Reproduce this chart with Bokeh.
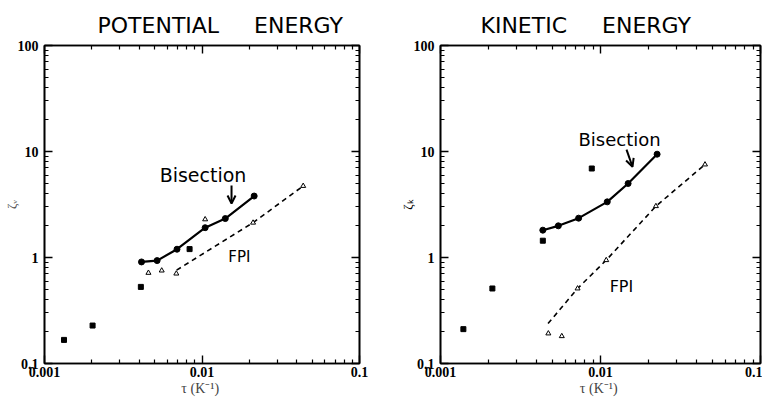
import math
from bokeh.plotting import figure
from bokeh.models import (LogAxis, FixedTicker, CustomJSTickFormatter, Label,
                          Arrow, OpenHead, Range1d, Title)
from bokeh.layouts import row
from bokeh.embed import file_html
from bokeh.resources import INLINE

# ---------------- data ----------------
# Potential energy panel
pe_sq_x = [0.00133, 0.00202, 0.00409, 0.00834]
pe_sq_y = [0.167, 0.228, 0.528, 1.20]
pe_bis_x = [0.00413, 0.00519, 0.00694, 0.01047, 0.01406, 0.02144]
pe_bis_y = [0.908, 0.935, 1.197, 1.91, 2.33, 3.80]
pe_fpi_x = [0.00457, 0.00555, 0.00687, 0.01047, 0.0211, 0.0439]
pe_fpi_y = [0.716, 0.753, 0.705, 2.29, 2.13, 4.73]
pe_fpi_line_x = [0.0069, 0.0211, 0.0439]
pe_fpi_line_y = [0.76, 2.13, 4.73]

# Kinetic energy panel
ke_sq_x = [0.00139, 0.00211, 0.00436, 0.00882]
ke_sq_y = [0.211, 0.510, 1.44, 6.91]
ke_bis_x = [0.00436, 0.00545, 0.00730, 0.01102, 0.01488, 0.02258]
ke_bis_y = [1.81, 1.99, 2.35, 3.35, 4.99, 9.43]
ke_fpi_x = [0.00472, 0.00573, 0.00719, 0.01086, 0.0222, 0.045]
ke_fpi_y = [0.192, 0.181, 0.510, 0.944, 3.05, 7.54]
ke_fpi_line_x = [0.0047, 0.00719, 0.01086, 0.0222, 0.045]
ke_fpi_line_y = [0.238, 0.510, 0.944, 3.05, 7.54]

x_major = [0.001, 0.01, 0.1]
y_major = [0.1, 1, 10, 100]

NB = "\u00a0"
titles = ["POTENTIAL" + NB * 5 + "ENERGY", "KINETIC" + NB * 5 + "ENERGY"]
y_labels = ["ζᵥ", "ζₖ"]
x_label = "τ  (K⁻¹)"
bis_label = "Bisection"
fpi_label = "FPI"


def minors(majors):
    out = []
    for m in majors[:-1]:
        out += [m * k for k in range(2, 10)]
    return out


HAND = "DejaVu Sans"
SERIF = "Liberation Serif"


def style_axis(ax, ticks, labels=True):
    ax.ticker = FixedTicker(ticks=ticks, minor_ticks=minors(ticks))
    ax.major_tick_in = 8
    ax.major_tick_out = 0
    ax.minor_tick_in = 4
    ax.minor_tick_out = 0
    ax.axis_line_width = 1.6
    ax.axis_line_color = "black"
    ax.major_tick_line_width = 1.4
    ax.minor_tick_line_width = 1.2
    ax.major_label_text_font = SERIF
    ax.major_label_text_font_style = "bold"
    ax.major_label_text_font_size = "14px"
    ax.major_label_text_color = "black"
    if labels:
        ax.formatter = CustomJSTickFormatter(
            code="return parseFloat(tick.toPrecision(3)).toString();")
    else:
        ax.formatter = CustomJSTickFormatter(code="return '';")
        ax.major_label_standoff = 0


def make_panel(idx, sq_x, sq_y, bis_x, bis_y, fpi_x, fpi_y, fl_x, fl_y,
               bl, tr, width, annot):
    p = figure(width=width, height=400, x_axis_type="log", y_axis_type="log",
               x_range=Range1d(0.001, 0.1), y_range=Range1d(0.1, 100),
               output_backend="svg", toolbar_location=None,
               min_border_left=bl[0], min_border_right=tr[0],
               min_border_top=tr[1], min_border_bottom=bl[1])
    p.grid.visible = False
    p.outline_line_color = "black"
    p.outline_line_width = 1.6
    p.background_fill_color = "white"
    p.border_fill_color = "white"

    style_axis(p.xaxis[0], x_major)
    style_axis(p.yaxis[0], y_major)
    p.xaxis[0].major_label_standoff = 3
    p.xaxis[0].axis_label = x_label
    p.xaxis[0].axis_label_text_font = SERIF
    p.xaxis[0].axis_label_text_font_style = "normal"
    p.xaxis[0].axis_label_text_font_size = "14px"
    p.xaxis[0].axis_label_standoff = 1
    p.yaxis[0].major_label_standoff = 6
    p.yaxis[0].axis_label = y_labels[idx]
    p.yaxis[0].axis_label_text_font = SERIF
    p.yaxis[0].axis_label_text_font_style = "normal"
    p.yaxis[0].axis_label_text_font_size = "13px"
    p.yaxis[0].axis_label_text_color = "#555555" if idx == 0 else "black"
    p.yaxis[0].axis_label_standoff = -4

    top = LogAxis()
    style_axis(top, x_major, labels=False)
    p.add_layout(top, "above")
    right = LogAxis()
    style_axis(right, y_major, labels=False)
    p.add_layout(right, "right")

    (toff, bx, by, ax0, ay0, ax1, ay1, fx, fy, tsize, fsize) = annot
    p.add_layout(Title(text=titles[idx], text_font=HAND, text_font_size="22px",
                       text_font_style="normal", align="left", offset=toff,
                       standoff=15, text_color="black"), "above")

    # curves
    p.line(bis_x, bis_y, line_color="black", line_width=2.2)
    p.line(fl_x, fl_y, line_color="black", line_width=1.6, line_dash="5 4")
    # markers
    p.scatter(sq_x, sq_y, marker="square", size=5, color="black")
    p.scatter(bis_x, bis_y, marker="circle", size=6, color="black")
    p.scatter(fpi_x, fpi_y, marker="triangle", size=5, fill_color="white",
              line_color="black", line_width=1)

    # handwritten annotations
    p.add_layout(Label(x=bx, y=by, text=bis_label, text_font=HAND,
                       text_font_size=tsize, text_align="center",
                       text_baseline="middle", text_color="black"))
    p.add_layout(Arrow(x_start=ax0, y_start=ay0, x_end=ax1, y_end=ay1,
                       line_width=2, line_color="black",
                       end=OpenHead(size=8, line_width=2, line_color="black")))
    p.add_layout(Label(x=fx, y=fy, text=fpi_label, text_font=HAND,
                       text_font_size=fsize, text_align="center",
                       text_baseline="middle", text_color="black"))
    return p


pe = make_panel(0, pe_sq_x, pe_sq_y, pe_bis_x, pe_bis_y, pe_fpi_x, pe_fpi_y,
                pe_fpi_line_x, pe_fpi_line_y, bl=(39, 37), tr=(22, 43), width=381,
                annot=(53, 0.01015, 6.04, 0.0154, 4.77, 0.0154, 3.23,
                       0.01728, 1.007, "19px", "15px"))
ke = make_panel(1, ke_sq_x, ke_sq_y, ke_bis_x, ke_bis_y, ke_fpi_x, ke_fpi_y,
                ke_fpi_line_x, ke_fpi_line_y, bl=(59, 35), tr=(2, 45), width=381,
                annot=(40, 0.01315, 12.85, 0.01454, 10.4, 0.01585, 7.18,
                       0.01352, 0.538, "18px", "16px"))

layout = row(pe, ke)
open("out.html", "w").write(file_html(layout, INLINE))
